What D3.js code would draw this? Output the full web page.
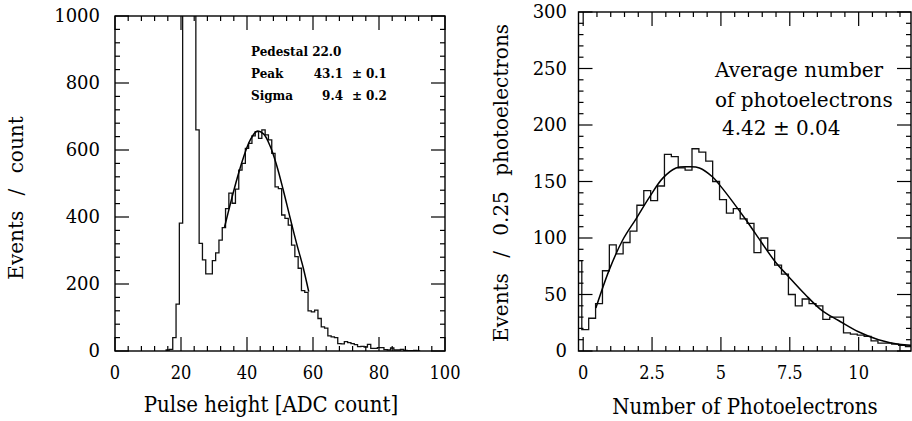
<!DOCTYPE html>
<html>
<head>
<meta charset="utf-8">
<style>
    body { margin: 0; background: #fff; }
    svg { display: block; font-family: 'DejaVu Serif', serif; }
    .frame { fill: none; stroke: #000; stroke-width: 1.4; }
    .tick { stroke: #000; stroke-width: 1.2; }
    .hist { fill: none; stroke: #111; stroke-width: 1.3; }
    .fit { fill: none; stroke: #000; stroke-width: 1.5; }
    .ylab { font-size: 18px; }
    .xlab { font-size: 18px; font-family: 'DejaVu Serif Condensed', 'DejaVu Serif', serif; }
    .xtitle { font-size: 22px; font-family: 'DejaVu Serif Condensed', 'DejaVu Serif', serif; }
    .ytitle { font-size: 20px; word-spacing: 9px; }
    .note { font-size: 12px; font-weight: bold; }
    .note2 { font-size: 20px; }
</style>
</head>
<body>
<svg width="912" height="421"></svg>

<script src="https://d3js.org/d3.v7.min.js"></script>
<script>
    // ---- left: pulse height spectrum, 1 ADC count per bin (bins centred on integers)
    let adcStart = 15.5
    let adcCounts = [
        3, 5, 40, 140, 382,             // 16-20
        1500, 1500, 1500, 1500,         // 21-24 pedestal, off scale
        660, 321, 272, 230, 230,        // 25-29
        270, 293, 331, 368, 425,        // 30-34
        471, 441, 483, 540, 560,        // 35-39
        605, 620, 642, 655, 635,        // 40-44
        660, 645, 630, 590, 490,        // 45-49
        485, 406, 396, 376, 316,        // 50-54
        282, 247, 180, 175, 120,        // 55-59
        117, 122, 97, 72, 68,           // 60-64
        45, 42, 40, 22, 21,             // 65-69
        28, 25, 22, 19, 13,             // 70-74
        14, 12, 20, 8, 8,               // 75-79
        10, 10, 4, 3, 9,                // 80-84
        3, 3, 5, 2, 1,                  // 85-89
        1, 2, 0                         // 90-92
    ]
    let adcFitX = [33.2, 35, 37, 39, 41, 43, 45, 47, 49, 51, 53, 55, 57, 58.7]
    let adcFitY = [370, 441, 515, 580, 630, 656, 648, 612, 554, 480, 400, 322, 250, 177]
    let adcXTicks = [0, 20, 40, 60, 80, 100]
    let adcYTicks = [0, 200, 400, 600, 800, 1000]

    // ---- right: number of photoelectrons, 0.25 per bin
    let peStart = -0.3
    let peCounts = [
        80, 19, 29, 42, 71, 94, 86, 96, 106, 129,
        142, 133, 146, 174, 172, 162, 160, 179, 176, 168,
        150, 134, 122, 126, 117, 113, 87, 100, 89, 76,
        68, 50, 40, 46, 42, 40, 28, 30, 30, 16,
        15, 14, 13, 9, 7, 7, 6, 5, 4
    ]
    let peFitX = [0.46, 0.95, 1.43, 1.92, 2.40, 2.89, 3.37, 3.85, 4.22, 4.70, 4.95, 5.43, 5.88, 6.28, 6.97, 7.45, 8.06, 8.66, 9.27, 9.99, 10.72, 11.45, 11.93]
    let peFitY = [38, 72, 98, 117, 136, 153, 162, 163, 162, 154, 147, 132, 117, 103, 79, 66, 50, 36, 27, 17, 10, 6, 5]
    let peXTicks = [0, 2.5, 5, 7.5, 10]
    let peYTicks = [0, 50, 100, 150, 200, 250, 300]

    let svg = d3.select("svg")

    function panel(cfg) {
        let x = cfg.x, y = cfg.y
        let [x0, x1] = x.range(), [y0, y1] = y.range()
        let g = svg.append("g")

        g.append("clipPath").attr("id", cfg.id)
            .append("rect")
            .attr("x", x0).attr("y", y1)
            .attr("width", x1 - x0).attr("height", y0 - y1)

        // histogram as a step line
        let pts = [[cfg.start, 0]]
        cfg.counts.forEach((v, i) => pts.push([cfg.start + i * cfg.w, v]))
        pts.push([cfg.start + cfg.counts.length * cfg.w, 0])

        let step = d3.line()
            .x(d => x(d[0]))
            .y(d => y(d[1]))
            .curve(d3.curveStepAfter)

        g.append("path")
            .attr("class", "hist")
            .attr("clip-path", "url(#" + cfg.id + ")")
            .attr("d", step(pts))

        let fit = d3.line()
            .x((d, i) => x(cfg.fitX[i]))
            .y(d => y(d))
            .curve(d3.curveCatmullRom)

        g.append("path")
            .attr("class", "fit")
            .attr("clip-path", "url(#" + cfg.id + ")")
            .attr("d", fit(cfg.fitY))

        // ticks on all four sides, pointing inwards
        let major = 14, minor = 5
        let xt = d3.range(0, x.domain()[1] + 1e-6, cfg.xMinor)
        let yt = d3.range(0, y.domain()[1] + 1e-6, cfg.yMinor)
        let isMajor = (v, m) => Math.abs(v / m - Math.round(v / m)) < 1e-6

        xt.forEach(v => {
            let len = isMajor(v, cfg.xMajor) ? major : minor
            g.append("line").attr("class", "tick")
                .attr("x1", x(v)).attr("x2", x(v)).attr("y1", y0).attr("y2", y0 - len)
            g.append("line").attr("class", "tick")
                .attr("x1", x(v)).attr("x2", x(v)).attr("y1", y1).attr("y2", y1 + len)
        })
        yt.forEach(v => {
            let len = isMajor(v, cfg.yMajor) ? major : minor
            g.append("line").attr("class", "tick")
                .attr("x1", x0).attr("x2", x0 + len).attr("y1", y(v)).attr("y2", y(v))
            g.append("line").attr("class", "tick")
                .attr("x1", x1).attr("x2", x1 - len).attr("y1", y(v)).attr("y2", y(v))
        })

        g.append("rect")
            .attr("class", "frame")
            .attr("x", x0).attr("y", y1)
            .attr("width", x1 - x0).attr("height", y0 - y1)

        // tick labels
        g.selectAll(".xl")
            .data(cfg.xTicks)
            .join("text")
            .attr("class", "xlab")
            .attr("x", d => x(d))
            .attr("y", 379)
            .attr("text-anchor", "middle")
            .text(d => d)

        g.selectAll(".yl")
            .data(cfg.yTicks)
            .join("text")
            .attr("class", "ylab")
            .attr("x", cfg.yLabX)
            .attr("y", d => y(d) + 6)
            .attr("text-anchor", "end")
            .text(d => d)

        g.append("text")
            .attr("class", "xtitle")
            .attr("x", cfg.xTitle[0]).attr("y", cfg.xTitle[1])
            .attr("text-anchor", "middle")
            .text(cfg.xLabel)

        g.append("text")
            .attr("class", "ytitle")
            .attr("transform", "translate(" + cfg.yTitle[0] + "," + cfg.yTitle[1] + ") rotate(-90)")
            .attr("text-anchor", "middle")
            .text(cfg.yLabel)

        return g
    }

    panel({
        id: "clipL",
        x: d3.scaleLinear([0, 100], [115, 445]),
        y: d3.scaleLinear([0, 1000], [351, 16]),
        start: adcStart, w: 1, counts: adcCounts,
        fitX: adcFitX, fitY: adcFitY,
        xMinor: 4, xMajor: 20, yMinor: 40, yMajor: 200,
        xTicks: adcXTicks, yTicks: adcYTicks,
        yLabX: 100,
        xLabel: "Pulse height [ADC count]", xTitle: [271, 412],
        yLabel: "Events / count", yTitle: [23, 198]
    })

    panel({
        id: "clipR",
        x: d3.scaleLinear([-0.17, 11.9], [578.5, 911]),
        y: d3.scaleLinear([0, 300], [351, 12]),
        start: peStart, w: 0.25, counts: peCounts,
        fitX: peFitX, fitY: peFitY,
        xMinor: 0.5, xMajor: 2.5, yMinor: 10, yMajor: 50,
        xTicks: peXTicks, yTicks: peYTicks,
        yLabX: 567,
        xLabel: "Number of Photoelectrons", xTitle: [745, 414],
        yLabel: "Events / 0.25 photoelectrons", yTitle: [508, 183]
    })

    // fit results, left panel
    let notes = svg.append("g").attr("class", "note")
    notes.append("text").attr("x", 251).attr("y", 56).text("Pedestal 22.0")
    let rows = [["Peak", "43.1", "0.1", 78], ["Sigma", "9.4", "0.2", 100]]
    rows.forEach(r => {
        notes.append("text").attr("x", 251).attr("y", r[3]).text(r[0])
        notes.append("text").attr("x", 343).attr("y", r[3]).attr("text-anchor", "end").text(r[1])
        notes.append("text").attr("x", 357).attr("y", r[3]).attr("text-anchor", "middle").text("±")
        notes.append("text").attr("x", 366).attr("y", r[3]).text(r[2])
    })

    // right panel annotation
    let n2 = svg.append("g").attr("class", "note2")
    n2.append("text").attr("x", 715).attr("y", 77).text("Average number")
    n2.append("text").attr("x", 715).attr("y", 107).text("of photoelectrons")
    n2.append("text").attr("x", 722).attr("y", 135).text("4.42 ± 0.04")
</script>
</body>
</html>
